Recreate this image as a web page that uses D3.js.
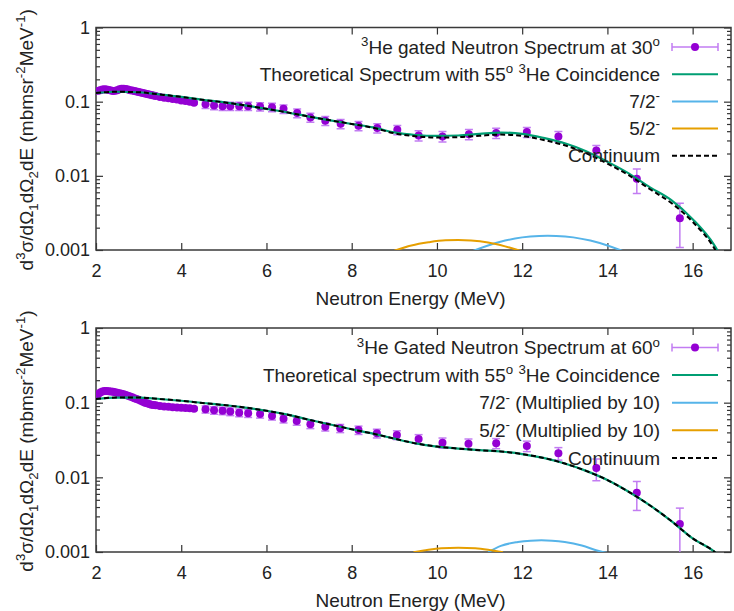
<!DOCTYPE html>
<html>
<head>
<meta charset="utf-8">
<script src="https://cdn.jsdelivr.net/npm/d3@7"></script>
<style>
body { margin: 0; background: #fff; }
svg { display: block; font-family: "Liberation Sans", Arial, sans-serif; }
</style>
</head>
<body>
<script>
/*
* Dati letti dal grafico: spettri di neutroni misurati (30 e 60 gradi)
*  e curve teoriche (continuo, 7/2-, 5/2-)
*/
var xTicks = [2, 4, 6, 8, 10, 12, 14, 16];
var yTicks = [1, 0.1, 0.01, 0.001];
var yTickLabels = ["1", "0.1", "0.01", "0.001"];

var curveE = [2, 2.5, 3, 3.5, 4, 4.5, 5, 5.5, 6, 6.5, 7, 7.5, 8, 8.5, 9, 9.5, 10, 10.5, 11, 11.5, 12, 12.5, 13, 13.5, 14, 14.5, 15, 15.5, 16, 16.5, 16.8];

var theory30 = [0.131, 0.136, 0.134, 0.125, 0.116, 0.106, 0.098, 0.089, 0.080, 0.0715, 0.063, 0.056, 0.050, 0.045, 0.0385, 0.0355, 0.0345, 0.035, 0.0368, 0.0383, 0.0368, 0.0325, 0.0275, 0.0215, 0.0155, 0.0108, 0.0070, 0.0047, 0.0026, 0.00118, 0.00058];
var continuum30 = [0.131, 0.136, 0.134, 0.125, 0.116, 0.106, 0.098, 0.089, 0.080, 0.0715, 0.063, 0.056, 0.050, 0.0445, 0.0375, 0.0342, 0.0328, 0.0332, 0.0347, 0.036, 0.0345, 0.0305, 0.0258, 0.0202, 0.0146, 0.0102, 0.0066, 0.0043, 0.0024, 0.00107, 0.0005];
var theory60 = [0.112, 0.117, 0.117, 0.112, 0.106, 0.099, 0.093, 0.086, 0.078, 0.069, 0.059, 0.051, 0.044, 0.0385, 0.033, 0.0285, 0.0258, 0.0243, 0.0231, 0.0222, 0.0205, 0.0182, 0.0153, 0.0122, 0.0092, 0.0064, 0.0042, 0.0026, 0.00152, 0.00102, 0.0007];
var continuum60 = [0.112, 0.117, 0.117, 0.112, 0.106, 0.099, 0.093, 0.086, 0.078, 0.069, 0.059, 0.051, 0.044, 0.0385, 0.033, 0.0285, 0.0258, 0.0243, 0.0231, 0.0222, 0.0205, 0.0182, 0.0153, 0.0122, 0.0092, 0.0064, 0.0042, 0.0026, 0.00152, 0.00102, 0.0007];

var peak72E30 = [10.8, 11.2, 11.6, 12.0, 12.4, 12.6, 12.8, 13.2, 13.6, 14.0, 14.4];
var peak72V30 = [0.00095, 0.00115, 0.00134, 0.00148, 0.00155, 0.00156, 0.00155, 0.00148, 0.00134, 0.00115, 0.00095];
var peak52E30 = [9.0, 9.4, 9.8, 10.2, 10.5, 10.8, 11.2, 11.6, 12.0];
var peak52V30 = [0.00098, 0.00115, 0.00127, 0.00135, 0.00136, 0.00134, 0.00126, 0.00112, 0.00096];
var peak72E60 = [11.2, 11.5, 11.9, 12.2, 12.45, 12.7, 13.0, 13.4, 13.8, 14.05];
var peak72V60 = [0.00099, 0.00121, 0.00136, 0.00142, 0.00144, 0.00142, 0.00136, 0.00122, 0.00103, 0.00096];
var peak52E60 = [9.45, 9.8, 10.1, 10.5, 10.9, 11.2, 11.55];
var peak52V60 = [0.00099, 0.00107, 0.00112, 0.00114, 0.00112, 0.00107, 0.00099];

var data30E = [2.05, 2.1, 2.15, 2.2, 2.25, 2.3, 2.35, 2.4, 2.45, 2.5, 2.55, 2.6, 2.65, 2.7, 2.75, 2.8, 2.85, 2.9, 2.95, 3.0, 3.05, 3.1, 3.15, 3.2, 3.25, 3.3, 3.35, 3.4,
    3.5, 3.6, 3.7, 3.8, 3.9, 4.0, 4.1, 4.2, 4.3,
    4.57, 4.77, 4.97, 5.15, 5.36, 5.57, 5.85, 6.13, 6.4, 6.72, 7.03, 7.38, 7.74, 8.16, 8.6, 9.07, 9.57, 10.13, 10.75, 11.39, 12.11, 12.85, 13.74, 14.69, 15.70];
var data30V = [0.140, 0.143, 0.146, 0.147, 0.146, 0.144, 0.141, 0.139, 0.140, 0.143, 0.147, 0.149, 0.149, 0.148, 0.146, 0.143, 0.141, 0.139, 0.137, 0.135, 0.133, 0.131, 0.129, 0.127, 0.125, 0.123, 0.121, 0.119,
    0.116, 0.113, 0.111, 0.109, 0.107, 0.104, 0.102, 0.100, 0.097,
    0.092, 0.089, 0.087, 0.087, 0.087, 0.087, 0.086, 0.084, 0.080, 0.0703, 0.0614, 0.0554, 0.0504, 0.0474, 0.0441, 0.0418, 0.035, 0.034, 0.0365, 0.0378, 0.0389, 0.034, 0.022, 0.0091, 0.00268];
var data30Err = [0.004, 0.004, 0.004, 0.004, 0.004, 0.004, 0.004, 0.004, 0.004, 0.004, 0.004, 0.004, 0.004, 0.004, 0.004, 0.004, 0.004, 0.004, 0.004, 0.004, 0.004, 0.004, 0.004, 0.004, 0.004, 0.004, 0.004, 0.004,
    0.004, 0.004, 0.004, 0.004, 0.004, 0.004, 0.004, 0.004, 0.004,
    0.011, 0.011, 0.011, 0.011, 0.011, 0.011, 0.011, 0.011, 0.0105, 0.0095, 0.0085, 0.0078, 0.0072, 0.0068, 0.0064, 0.006, 0.0055, 0.0055, 0.0058, 0.006, 0.006, 0.0055, 0.0037, 0.0033, 0.0016];

var data60E = [2.05, 2.1, 2.15, 2.2, 2.25, 2.3, 2.35, 2.4, 2.45, 2.5, 2.55, 2.6, 2.65, 2.7, 2.75, 2.8, 2.85, 2.9, 2.95, 3.0, 3.05, 3.1, 3.15, 3.2, 3.25, 3.3, 3.35, 3.4,
    3.5, 3.6, 3.7, 3.8, 3.9, 4.0, 4.1, 4.2, 4.3,
    4.57, 4.77, 4.97, 5.15, 5.36, 5.57, 5.85, 6.13, 6.4, 6.71, 7.03, 7.38, 7.73, 8.16, 8.59, 9.06, 9.57, 10.13, 10.74, 11.39, 12.11, 12.85, 13.74, 14.69, 15.70];
var data60V = [0.130, 0.137, 0.141, 0.143, 0.143, 0.142, 0.141, 0.140, 0.138, 0.136, 0.134, 0.132, 0.130, 0.127, 0.124, 0.121, 0.118, 0.115, 0.112, 0.109, 0.106, 0.103, 0.100, 0.098, 0.096, 0.094, 0.093, 0.092,
    0.090, 0.089, 0.088, 0.087, 0.086, 0.0855, 0.085, 0.084, 0.083,
    0.0815, 0.079, 0.078, 0.076, 0.0735, 0.072, 0.0705, 0.0665, 0.061, 0.0569, 0.0514, 0.0477, 0.0454, 0.043, 0.0389, 0.037, 0.0326, 0.0291, 0.0282, 0.0286, 0.0263, 0.021, 0.0133, 0.0062, 0.00237];
var data60Err = [0.004, 0.004, 0.004, 0.004, 0.004, 0.004, 0.004, 0.004, 0.004, 0.004, 0.004, 0.004, 0.004, 0.004, 0.004, 0.004, 0.004, 0.004, 0.004, 0.004, 0.004, 0.004, 0.004, 0.004, 0.004, 0.004, 0.004, 0.004,
    0.004, 0.004, 0.004, 0.004, 0.004, 0.004, 0.004, 0.004, 0.004,
    0.009, 0.009, 0.009, 0.009, 0.0088, 0.0086, 0.0084, 0.008, 0.0075, 0.007, 0.0065, 0.006, 0.0057, 0.0055, 0.0052, 0.005, 0.0047, 0.0045, 0.0044, 0.0044, 0.0042, 0.004, 0.0043, 0.0026, 0.0015];

/*
* Testi della legenda: ogni parte e' [testo, tipo] con tipo "" / "sup" / "sub"
*/
var legend30 = [
    [["3", "sup"], ["He gated Neutron Spectrum at 30", ""], ["o", "sup"]],
    [["Theoretical Spectrum with 55", ""], ["o", "sup"], [" ", ""], ["3", "sup"], ["He Coincidence", ""]],
    [["7/2", ""], ["-", "sup"]],
    [["5/2", ""], ["-", "sup"]],
    [["Continuum", ""]]
];
var legend60 = [
    [["3", "sup"], ["He Gated Neutron Spectrum at 60", ""], ["o", "sup"]],
    [["Theoretical spectrum with 55", ""], ["o", "sup"], [" ", ""], ["3", "sup"], ["He Coincidence", ""]],
    [["7/2", ""], ["-", "sup"], [" (Multiplied by 10)", ""]],
    [["5/2", ""], ["-", "sup"], [" (Multiplied by 10)", ""]],
    [["Continuum", ""]]
];
var yTitle = [["d", ""], ["3", "sup"], ["σ/dΩ", ""], ["1", "sub"], ["dΩ", ""], ["2", "sub"], ["dE (mbmsr", ""], ["-2", "sup"], ["MeV", ""], ["-1", "sup"], [")", ""]];
var xTitle = "Neutron Energy (MeV)";

var colData = "#9400d3", colErr = "#c27cf2", colTheory = "#009e73",
    col72 = "#56b4e9", col52 = "#e69f00", colCont = "#000000";

var fs = 19;
var width = 734, height = 611;

var svg = d3.select("body").append("svg")
    .attr("width", width)
    .attr("height", height);

svg.append("rect").attr("width", width).attr("height", height).attr("fill", "#fff");

var x = d3.scaleLinear().domain([2, 16.9]).range([96, 731]);

var panels = [
    {top: 27.5, bottom: 250, E: data30E, V: data30V, Err: data30Err, theory: theory30, cont: continuum30,
     p72E: peak72E30, p72V: peak72V30, p52E: peak52E30, p52V: peak52V30, legend: legend30, legY: 47, legStep: 27.2, id: "p30"},
    {top: 328, bottom: 552, E: data60E, V: data60V, Err: data60Err, theory: theory60, cont: continuum60,
     p72E: peak72E60, p72V: peak72V60, p52E: peak52E60, p52V: peak52V60, legend: legend60, legY: 347.5, legStep: 27.6, id: "p60"}
];

/*
* Scrive un testo con apici e pedici usando dei tspan
*/
function richText(sel, parts, size) {
    var offset = 0;
    parts.forEach(function(p) {
        var target = p[1] === "sup" ? -0.4 * size : (p[1] === "sub" ? 0.28 * size : 0);
        sel.append("tspan")
            .attr("dy", target - offset)
            .attr("font-size", p[1] ? size * 0.7 : size)
            .text(p[0]);
        offset = target;
    });
}

function minorTicks() {
    var out = [];
    [0.001, 0.01, 0.1].forEach(function(d) {
        for (var k = 2; k <= 9; k++) out.push(d * k);
    });
    return out;
}

function drawPanel(p) {
    var y = d3.scaleLog().domain([0.001, 1]).range([p.bottom, p.top]);
    var g = svg.append("g");

    g.append("clipPath").attr("id", "clip" + p.id)
        .append("rect")
        .attr("x", x.range()[0]).attr("y", p.top)
        .attr("width", x.range()[1] - x.range()[0])
        .attr("height", p.bottom - p.top);

    // assi con tacche verso l'interno
    var axB = g.append("g").attr("transform", "translate(0," + p.bottom + ")")
        .call(d3.axisBottom(x).tickValues(xTicks).tickSize(-7).tickPadding(14).tickFormat(d3.format("d")));
    var axT = g.append("g").attr("transform", "translate(0," + p.top + ")")
        .call(d3.axisTop(x).tickValues(xTicks).tickSize(-7).tickFormat(""));
    var axL = g.append("g").attr("transform", "translate(" + x.range()[0] + ",0)")
        .call(d3.axisLeft(y).tickValues(yTicks).tickSize(-7).tickPadding(6)
            .tickFormat(function(d, i) { return yTickLabels[i]; }));
    var axLm = g.append("g").attr("transform", "translate(" + x.range()[0] + ",0)")
        .call(d3.axisLeft(y).tickValues(minorTicks()).tickSize(-4).tickFormat(""));
    var axR = g.append("g").attr("transform", "translate(" + x.range()[1] + ",0)")
        .call(d3.axisRight(y).tickValues(yTicks).tickSize(-7).tickFormat(""));
    var axRm = g.append("g").attr("transform", "translate(" + x.range()[1] + ",0)")
        .call(d3.axisRight(y).tickValues(minorTicks()).tickSize(-4).tickFormat(""));

    [axB, axT, axL, axLm, axR, axRm].forEach(function(a) {
        a.attr("font-size", 18).attr("font-family", null).attr("color", "#333");
        a.select(".domain").remove();
        a.selectAll(".tick line").attr("stroke-width", 1.2);
        a.selectAll(".tick text").attr("fill", "#222");
    });

    g.append("rect")
        .attr("x", x.range()[0]).attr("y", p.top)
        .attr("width", x.range()[1] - x.range()[0])
        .attr("height", p.bottom - p.top)
        .attr("fill", "none").attr("stroke", "#3a3a3a").attr("stroke-width", 1.5);

    // titoli degli assi
    g.append("text")
        .attr("x", (x.range()[0] + x.range()[1]) / 2 - 3)
        .attr("y", p.bottom + 48 + 0.35 * fs)
        .attr("text-anchor", "middle")
        .attr("font-size", fs).attr("fill", "#222")
        .text(xTitle);

    var yt = g.append("text")
        .attr("transform", "translate(26," + ((p.top + p.bottom) / 2 + 1) + ") rotate(-90)")
        .attr("y", 0.35 * fs)
        .attr("text-anchor", "middle")
        .attr("font-size", fs).attr("fill", "#222");
    richText(yt, yTitle, fs);

    var plot = g.append("g").attr("clip-path", "url(#clip" + p.id + ")");

    // punti con barre d'errore
    var pts = p.E.map(function(e, i) { return {e: e, v: p.V[i], err: p.Err[i]}; });
    var bars = plot.selectAll("g.bar").data(pts).enter().append("g").attr("class", "bar")
        .attr("stroke", colErr).attr("stroke-width", 1.5);
    bars.append("line")
        .attr("x1", function(d) { return x(d.e); }).attr("x2", function(d) { return x(d.e); })
        .attr("y1", function(d) { return y(d.v + d.err); })
        .attr("y2", function(d) { return y(Math.max(d.v - d.err, 1e-5)); });
    bars.append("line")
        .attr("x1", function(d) { return x(d.e) - 4; }).attr("x2", function(d) { return x(d.e) + 4; })
        .attr("y1", function(d) { return y(d.v + d.err); }).attr("y2", function(d) { return y(d.v + d.err); });
    bars.append("line")
        .attr("x1", function(d) { return x(d.e) - 4; }).attr("x2", function(d) { return x(d.e) + 4; })
        .attr("y1", function(d) { return y(Math.max(d.v - d.err, 1e-5)); })
        .attr("y2", function(d) { return y(Math.max(d.v - d.err, 1e-5)); });
    plot.selectAll("circle.pt").data(pts).enter().append("circle").attr("class", "pt")
        .attr("cx", function(d) { return x(d.e); })
        .attr("cy", function(d) { return y(d.v); })
        .attr("r", 4)
        .attr("fill", colData);

    // curve
    function curve(es, vs, color, width, dash) {
        var line = d3.line()
            .x(function(d, i) { return x(es[i]); })
            .y(function(d) { return y(d); })
            .curve(d3.curveMonotoneX);
        plot.append("path")
            .attr("d", line(vs))
            .attr("fill", "none")
            .attr("stroke", color)
            .attr("stroke-width", width)
            .attr("stroke-dasharray", dash || null);
    }
    curve(curveE, p.theory, colTheory, 2.2);
    curve(p.p72E, p.p72V, col72, 2);
    curve(p.p52E, p.p52V, col52, 2);
    curve(curveE, p.cont, colCont, 2, "5,3");

    // legenda
    var styles = [
        {c: colTheory}, {c: colTheory}, {c: col72}, {c: col52}, {c: colCont, dash: "5,3"}
    ];
    p.legend.forEach(function(parts, i) {
        var ly = p.legY + i * p.legStep;
        var t = g.append("text")
            .attr("x", 660).attr("y", ly + 0.35 * fs)
            .attr("text-anchor", "end")
            .attr("font-size", fs).attr("fill", "#222");
        richText(t, parts, fs);
        if (i === 0) {
            var lg = g.append("g").attr("stroke", colErr).attr("stroke-width", 1.5);
            lg.append("line").attr("x1", 672).attr("x2", 718).attr("y1", ly).attr("y2", ly);
            lg.append("line").attr("x1", 672).attr("x2", 672).attr("y1", ly - 4).attr("y2", ly + 4);
            lg.append("line").attr("x1", 718).attr("x2", 718).attr("y1", ly - 4).attr("y2", ly + 4);
            g.append("circle").attr("cx", 695).attr("cy", ly).attr("r", 4).attr("fill", colData);
        } else {
            g.append("line")
                .attr("x1", 672).attr("x2", 718).attr("y1", ly).attr("y2", ly)
                .attr("stroke", styles[i].c).attr("stroke-width", 2)
                .attr("stroke-dasharray", styles[i].dash || null);
        }
    });
}

panels.forEach(drawPanel);
</script>
</body>
</html>
